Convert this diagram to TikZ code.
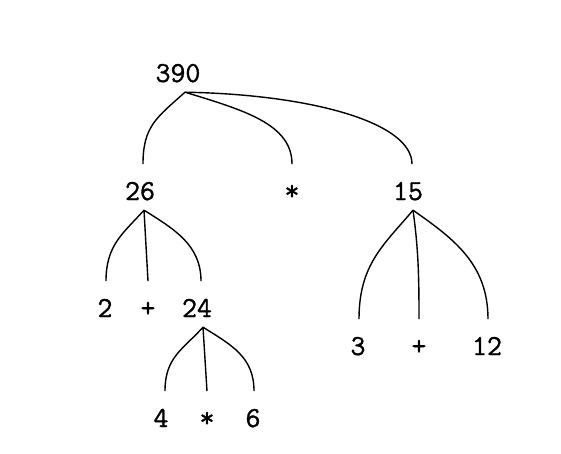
\documentclass[tikz,border=0pt]{standalone}
\usepackage{fontspec}
\newfontfamily\treefont[FakeBold=1.2]{Latin Modern Mono}
\begin{document}
\begin{tikzpicture}[x=1pt,y=1pt,
  lbl/.style={anchor=base,inner sep=0pt,text height=17.7pt,text depth=0pt,
    font=\fontsize{29}{29}\selectfont\treefont},
  br/.style={line width=1.4pt}]
\useasboundingbox[fill=white] (0,0) rectangle (561,453);
% nodes
\node[lbl] (n390) at (178,371) {390};
\node[lbl] (n26)  at (140,253) {26};
\node[lbl] (st1)  at (292,253) {*};
\node[lbl] (n15)  at (408,253) {15};
\node[lbl] (n2)   at (105,136) {2};
\node[lbl] (pl1)  at (148,136) {+};
\node[lbl] (n24)  at (197,136) {24};
\node[lbl] (n3)   at (358,98) {3};
\node[lbl] (pl2)  at (419,98) {+};
\node[lbl] (n12)  at (487,98) {12};
\node[lbl] (n4)   at (161,26) {4};
\node[lbl] (st2)  at (207,26) {*};
\node[lbl] (n6)   at (253,26) {6};
% branches from 390
\draw[br] ([shift={(7,-10)}]n390.south) .. controls +(222:38) and +(0,38) .. ([shift={(3,18)}]n26.north);
\draw[br] ([shift={(7,-10)}]n390.south) .. controls +(-17:62) and +(0,40) .. ([shift={(0,18)}]st1.north);
\draw[br] ([shift={(7,-10)}]n390.south) .. controls +(-1:125) and +(0,42) .. ([shift={(4,18)}]n15.north);
% branches from 26
\draw[br] ([shift={(4,-10)}]n26.south) .. controls +(228:32) and +(0,36) .. ([shift={(1,18)}]n2.north);
\draw[br] ([shift={(4,-10)}]n26.south) -- ([shift={(0,18)}]pl1.north);
\draw[br] ([shift={(4,-10)}]n26.south) .. controls +(-32:36) and +(0,36) .. ([shift={(4,18)}]n24.north);
% branches from 24
\draw[br] ([shift={(6,-10)}]n24.south) .. controls +(228:30) and +(0,34) .. ([shift={(4,18)}]n4.north);
\draw[br] ([shift={(6,-10)}]n24.south) -- ([shift={(0,18)}]st2.north);
\draw[br] ([shift={(6,-10)}]n24.south) .. controls +(-32:34) and +(0,34) .. ([shift={(1,18)}]n6.north);
% branches from 15
\draw[br] ([shift={(5,-10)}]n15.south) .. controls +(230:45) and +(0,55) .. ([shift={(1,18)}]n3.north);
\draw[br] ([shift={(5,-10)}]n15.south) .. controls +(-82:40) and +(0,40) .. ([shift={(0,18)}]pl2.north);
\draw[br] ([shift={(5,-10)}]n15.south) .. controls +(-35:50) and +(0,55) .. ([shift={(1,18)}]n12.north);
\end{tikzpicture}
\end{document}
